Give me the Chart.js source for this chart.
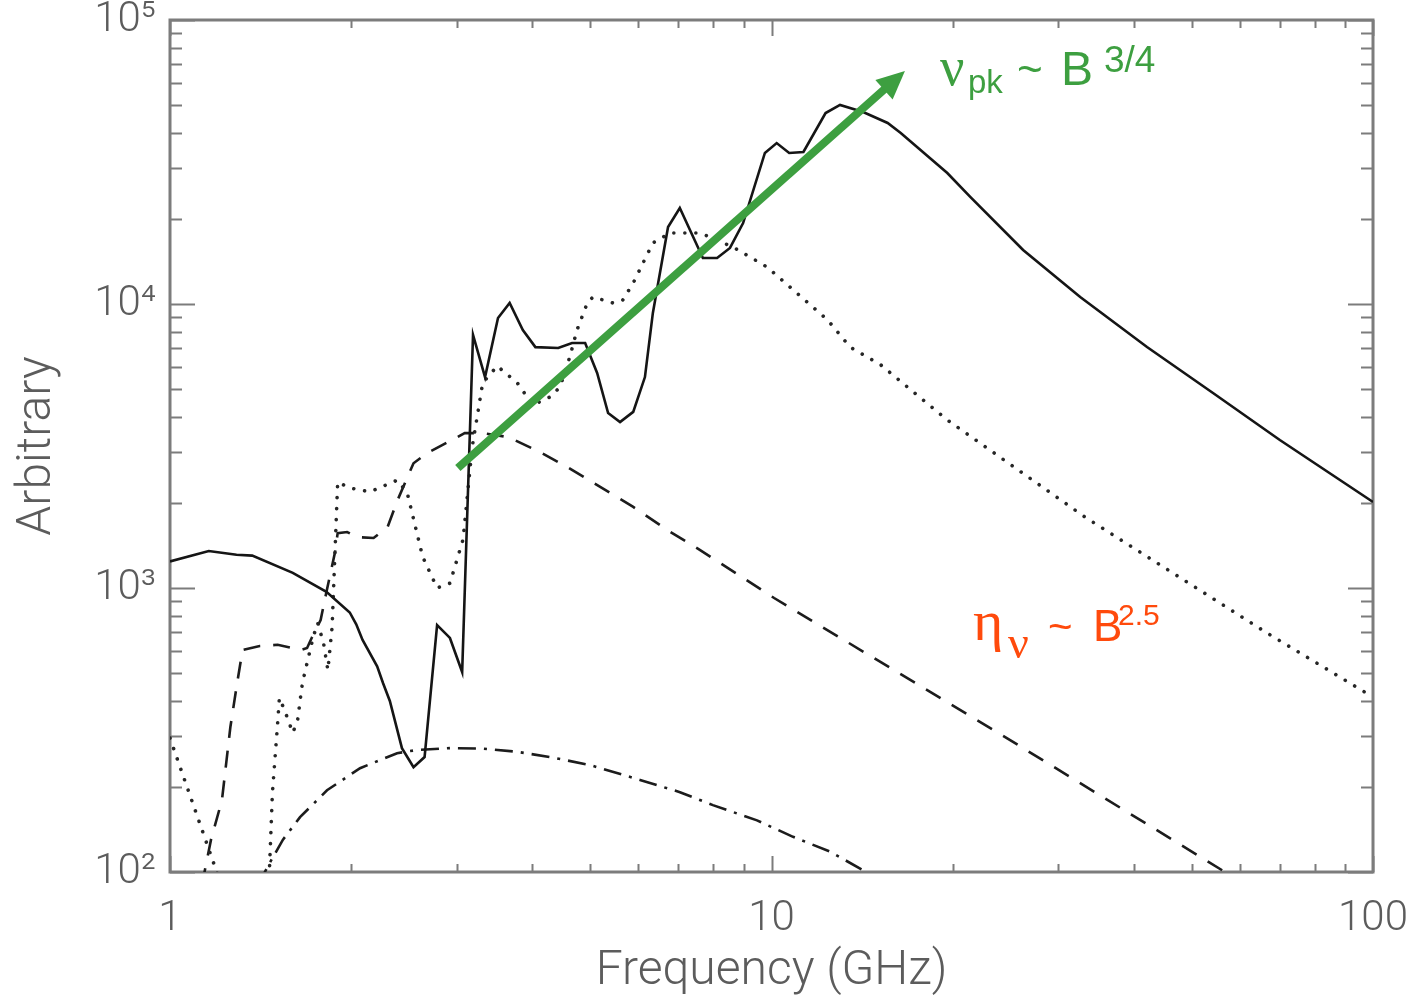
<!DOCTYPE html>
<html>
<head>
<meta charset="utf-8">
<script src="https://cdn.jsdelivr.net/npm/chart.js@4.4.0/dist/chart.umd.min.js"></script>
<style>
  html, body { margin: 0; padding: 0; background: #fff; }
  canvas { display: block; }
</style>
</head>
<body>
<canvas id="spectrum" width="1421" height="1004"></canvas>
<script>
// total spectrum (solid)
const solidFreq = [1.00, 1.16, 1.29, 1.37, 1.60, 1.82, 1.99, 2.04, 2.09, 2.21, 2.26, 2.32, 2.43, 2.54, 2.65, 2.78, 2.92, 3.06,
  3.19, 3.34, 3.51, 3.67, 3.86, 4.05, 4.42, 4.66, 4.90, 5.13, 5.35, 5.60, 5.89, 6.16, 6.35, 6.73, 7.04, 7.69, 8.12,
  8.53, 8.97, 9.75, 10.2, 10.7, 11.3, 12.3, 13.0, 14.2, 15.6, 16.4, 19.6, 21.4, 26.2, 32.6, 42.1, 54.2, 70.0, 100];
const solidVal = [1240, 1350, 1310, 1300, 1130, 970, 820, 745, 656, 530, 463, 400, 273, 234, 254, 740, 667, 506,
  7780, 5530, 8930, 10080, 8100, 7050, 7000, 7290, 7290, 5720, 4130, 3840, 4170, 5530, 9300, 18660, 21780, 14520, 14520,
  15750, 19280, 34030, 36870, 34030, 34290, 47030, 50210, 47430, 43390, 40000, 28920, 23820, 15500, 10590, 7055, 4860, 3320, 2008];

// dotted
const dotFreq = [1.00, 1.20, 1.30, 1.46, 1.48, 1.51, 1.52, 1.55, 1.60, 1.63, 1.66, 1.73, 1.76, 1.80, 1.83, 1.86, 1.90,
  1.99, 2.15, 2.39, 2.48, 2.63, 2.78, 2.92, 3.07, 3.18, 3.31, 3.50, 3.78, 4.01, 4.28, 4.45, 4.62, 4.75, 4.94, 5.05,
  5.45, 5.66, 5.89, 6.35, 6.78, 7.61, 8.63, 9.83, 12.4, 13.5, 15.2, 19.6, 33.2, 66.6, 100];
const dotVal = [296, 98, 60, 90, 190, 335, 410, 372, 309, 343, 463, 672, 753, 640, 514, 729, 2360,
  2250, 2180, 2400, 2160, 1290, 1000, 1040, 1480, 3140, 5270, 6050, 5270, 4410, 4700, 5100, 6510, 8100, 10080, 10590,
  10080, 10330, 11860, 16400, 17780, 17780, 15870, 13500, 8780, 7060, 6100, 3905, 1778, 695, 413];

// dashed
const dashFreq = [1.13, 1.17, 1.22, 1.26, 1.29, 1.32, 1.41, 1.51, 1.65, 1.69, 1.72, 1.78, 1.82, 1.88, 1.90, 1.97, 2.05,
  2.18, 2.30, 2.39, 2.54, 2.68, 2.84, 3.09, 3.31, 3.65, 4.12, 4.57, 5.19, 5.89, 6.71, 7.61, 10.1, 24.0, 60];
const dashVal = [90, 130, 179, 324, 448, 605, 625, 631, 605, 615, 667, 771, 968, 1330, 1560, 1575, 1510,
  1500, 1640, 2040, 2750, 2990, 3190, 3510, 3510, 3400, 3010, 2670, 2270, 1930, 1600, 1360, 922, 306, 93];

// dash-dot
const ddFreq = [1.40, 1.466, 1.541, 1.645, 1.824, 2.07, 2.385, 2.574, 2.921, 3.314, 3.775, 4.283, 4.992, 6.045,
  7.044, 7.99, 9.46, 10.86, 12.51, 15.0];
const ddVal = [90, 108, 130, 156, 194, 232, 262, 269, 273, 272, 265, 254, 238, 211, 191, 172, 152, 133, 118, 95];

// green arrow (tail, base of head)
const arrowFreq = [3.01, 15.56];
const arrowVal = [2645, 58070];

// axis ticks with labels
const xTickVals = [1, 10, 100];
const yTickVals = [100, 1000, 10000, 100000];
const yTickLabels = ['10\u00b2', '10\u00b3', '10\u2074', '10\u2075'];

// where the two annotations sit (data coordinates)
const greenAnchor = [19.06, 59030];
const redAnchor = [21.63, 656];

const GREEN = '#3d9f40';
const RED = '#ff4a0c';
const AXIS = '#7c7c7c';
const TEXT = '#5c5c5c';

const pts = (xs, ys) => xs.map((f, i) => ({x: f, y: ys[i]}));

// frame + inward ticks on all four sides
const frameTicks = {
  id: 'frameTicks',
  beforeDatasetsDraw(chart) {
    const {ctx, chartArea: a, scales: {x, y}} = chart;
    ctx.save();
    ctx.strokeStyle = AXIS;
    ctx.lineWidth = 2;
    ctx.beginPath();
    for (let d = 1; d <= 100; d *= 10) {
      for (let m = 1; m < 10 && d * m <= 100; m++) {
        const px = Math.round(x.getPixelForValue(d * m)) + 0.5;
        const len = m === 1 ? 16 : 8;
        ctx.moveTo(px, a.bottom); ctx.lineTo(px, a.bottom - len);
        ctx.moveTo(px, a.top); ctx.lineTo(px, a.top + len);
      }
    }
    for (let d = 100; d <= 100000; d *= 10) {
      for (let m = 1; m < 10 && d * m <= 100000; m++) {
        const py = Math.round(y.getPixelForValue(d * m)) + 0.5;
        const len = m === 1 ? 25 : 12;
        ctx.moveTo(a.left, py); ctx.lineTo(a.left + len, py);
        ctx.moveTo(a.right, py); ctx.lineTo(a.right - len, py);
      }
    }
    ctx.stroke();
    ctx.lineWidth = 3;
    ctx.strokeRect(a.left, a.top, a.right - a.left, a.bottom - a.top);
    ctx.restore();
  }
};

// arrow head and the two scaling labels
const notes = {
  id: 'notes',
  afterDatasetsDraw(chart) {
    const {ctx, scales: {x, y}} = chart;
    const meta = chart.getDatasetMeta(0);
    const p0 = meta.data[0], p1 = meta.data[1];
    const dx = p1.x - p0.x, dy = p1.y - p0.y;
    const L = Math.hypot(dx, dy);
    const ux = dx / L, uy = dy / L;
    ctx.save();
    ctx.fillStyle = GREEN;
    ctx.beginPath();
    ctx.moveTo(p1.x + ux * 24, p1.y + uy * 24);
    ctx.lineTo(p1.x - ux * 4 - uy * 13, p1.y - uy * 4 + ux * 13);
    ctx.lineTo(p1.x - ux * 4 + uy * 13, p1.y - uy * 4 - ux * 13);
    ctx.closePath();
    ctx.fill();

    const write = (anchor, color, parts) => {
      const ax = x.getPixelForValue(anchor[0]);
      const ay = y.getPixelForValue(anchor[1]);
      ctx.fillStyle = color;
      ctx.textBaseline = 'alphabetic';
      ctx.textAlign = 'left';
      parts.forEach(p => {
        ctx.font = p.font;
        ctx.fillText(p.t, ax + p.dx, ay + p.dy);
      });
    };
    write(greenAnchor, GREEN, [
      {t: '\u03bd', font: '54px "Liberation Serif"', dx: 0, dy: 0},
      {t: 'pk', font: '33px "Liberation Sans"', dx: 28, dy: 8},
      {t: '~', font: '44px "Liberation Sans"', dx: 77, dy: -1},
      {t: 'B', font: '48px "Liberation Sans"', dx: 121, dy: 0},
      {t: '3/4', font: '37px "Liberation Sans"', dx: 164, dy: -13}
    ]);
    write(redAnchor, RED, [
      {t: '\u03b7', font: '58px "Liberation Serif"', dx: 0, dy: 0},
      {t: '\u03bd', font: '46px "Liberation Serif"', dx: 35, dy: 18},
      {t: '~', font: '42px "Liberation Sans"', dx: 75, dy: 1},
      {t: 'B', font: '44px "Liberation Sans"', dx: 120, dy: 1},
      {t: '2.5', font: '30px "Liberation Sans"', dx: 145, dy: -15}
    ]);
    ctx.restore();
  }
};

const lineDefaults = {showLine: true, pointRadius: 0, tension: 0, fill: false};

new Chart(document.getElementById('spectrum'), {
  type: 'scatter',
  data: {
    datasets: [
      {...lineDefaults, label: 'arrow', data: pts(arrowFreq, arrowVal), borderColor: GREEN, borderWidth: 8},
      {...lineDefaults, label: 'total', data: pts(solidFreq, solidVal), borderColor: '#151515', borderWidth: 2.6},
      {...lineDefaults, label: 'dotted', data: pts(dotFreq, dotVal), borderColor: '#262626', borderWidth: 3.6,
        borderDash: [0.01, 11], borderCapStyle: 'round'},
      {...lineDefaults, label: 'dashed', data: pts(dashFreq, dashVal), borderColor: '#1c1c1c', borderWidth: 2.6,
        borderDash: [17, 13]},
      {...lineDefaults, label: 'dashdot', data: pts(ddFreq, ddVal), borderColor: '#1c1c1c', borderWidth: 2.6,
        borderDash: [18, 8, 3, 8]}
    ]
  },
  options: {
    responsive: false,
    animation: false,
    devicePixelRatio: 1,
    layout: {padding: {left: 0, right: 48, top: 20, bottom: 0}},
    plugins: {legend: {display: false}, tooltip: {enabled: false}},
    scales: {
      x: {
        type: 'logarithmic',
        min: 1, max: 100,
        afterBuildTicks: s => { s.ticks = xTickVals.map(v => ({value: v})); },
        afterFit: s => { s.height = 132; s.paddingLeft = 0; s.paddingRight = 0; },
        grid: {display: false, drawTicks: false},
        border: {display: false},
        ticks: {
          autoSkip: false, maxRotation: 0, padding: 22, color: TEXT,
          font: {family: 'Roboto', weight: '300', size: 42},
          callback: v => String(v)
        },
        title: {
          display: true, text: 'Frequency (GHz)', color: TEXT,
          font: {family: 'Roboto', weight: '300', size: 48, lineHeight: 1},
          padding: {top: 0, bottom: 8}
        }
      },
      y: {
        type: 'logarithmic',
        min: 100, max: 100000,
        afterBuildTicks: s => { s.ticks = yTickVals.map(v => ({value: v})); },
        afterFit: s => { s.width = 170; s.paddingTop = 0; s.paddingBottom = 0; },
        grid: {display: false, drawTicks: false},
        border: {display: false},
        ticks: {
          autoSkip: false, padding: 14, color: TEXT,
          font: {family: 'Roboto', weight: '300', size: 42},
          callback: v => yTickLabels[yTickVals.indexOf(v)]
        },
        title: {
          display: true, text: 'Arbitrary', color: TEXT,
          font: {family: 'Roboto', weight: '300', size: 48, lineHeight: 1},
          padding: {top: 14, bottom: 0}
        }
      }
    }
  },
  plugins: [frameTicks, notes]
});
</script>
</body>
</html>
